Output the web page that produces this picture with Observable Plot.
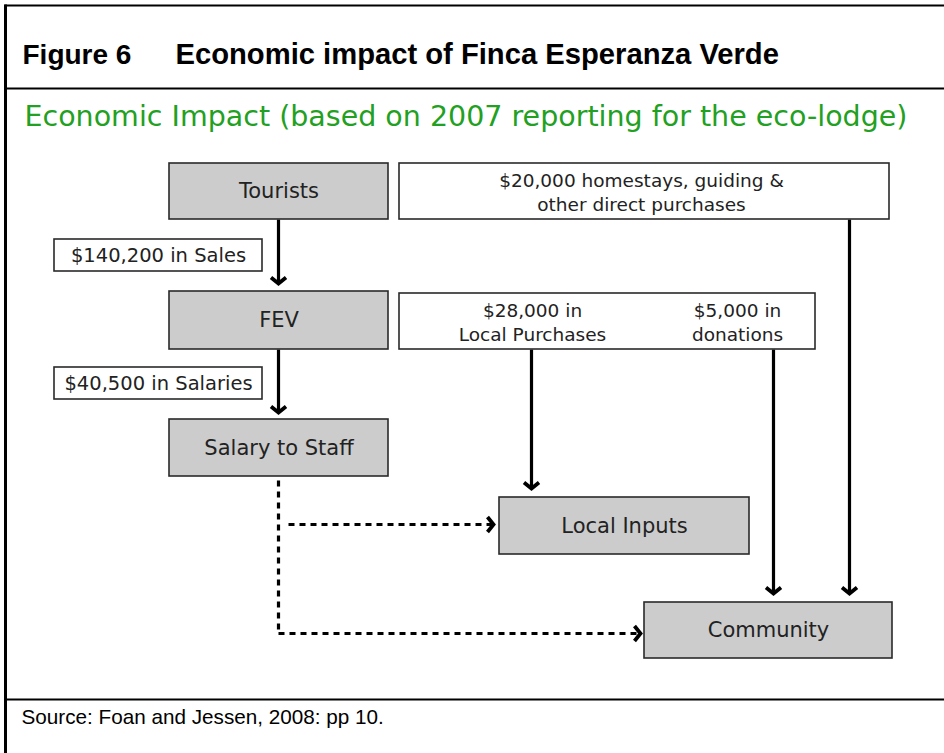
<!DOCTYPE html>
<html><head><meta charset="utf-8">
<script src="https://cdn.jsdelivr.net/npm/d3@7"></script>
<script src="https://cdn.jsdelivr.net/npm/@observablehq/plot@0.6"></script>
<style>html,body{margin:0;padding:0;background:#fff} svg{display:block}</style>
</head><body><div id="chart"></div>
<script>
// ---- content (text & values) ----
const figureNumber = "Figure 6";
const figureTitle = "Economic impact of Finca Esperanza Verde";
const diagramTitle = "Economic Impact (based on 2007 reporting for the eco-lodge)";
const sourceNote = "Source: Foan and Jessen, 2008: pp 10.";
const nodeNames = ["Tourists", "FEV", "Salary to Staff", "Local Inputs", "Community"];
const flowLabels = ["$140,200 in Sales", "$40,500 in Salaries"];
const noteLabels = ["$20,000 homestays, guiding &\nother direct purchases", "$28,000 in\nLocal Purchases", "$5,000 in\ndonations"];

// ---- layout (diagram geometry, in page units) ----
const nodeBoxes = [[169,388,163,219],[169,388,291,349],[169,388,419,476],[499,749,497,554],[644,892,602,658]];
const flowBoxes = [[54,262,239,271],[54,262,367,399]];
const noteBoxes = [[399,889,163,219],[399,815,293,349]];
const notePos = [[641,191],[532,321],[737,321]];
const solidArrows = [[278,219,278,283],[278,349,278,412],[531,349,531,488],[773,349,773,593],[849,219,849,593]];
const dashedPaths = [[[278,480],[278,633],[640,633]],[[288,524],[493,524]]];

const nodes = nodeNames.map((name,i)=>({name, x1:nodeBoxes[i][0], x2:nodeBoxes[i][1], y1:nodeBoxes[i][2], y2:nodeBoxes[i][3]}));
const flows = flowLabels.map((label,i)=>({label, x1:flowBoxes[i][0], x2:flowBoxes[i][1], y1:flowBoxes[i][2], y2:flowBoxes[i][3]}));
const noteRects = noteBoxes.map(b=>({x1:b[0],x2:b[1],y1:b[2],y2:b[3]}));
const notes = noteLabels.map((label,i)=>({label, x:notePos[i][0], y:notePos[i][1]}));
const shafts = solidArrows.map(a=>({x1:a[0],y1:a[1],x2:a[2],y2:a[3]}));
const dashedSegs = dashedPaths.flatMap((p)=>p.slice(1).map((pt,j)=>({x1:p[j][0],y1:p[j][1],x2:pt[0],y2:pt[1]})));
const heads = [
  ...solidArrows.map(a=>({x:a[2], y:a[3], rot:0})),
  ...dashedPaths.map(p=>({x:p[p.length-1][0], y:p[p.length-1][1], rot:-90}))
];

const chevron = {
  draw(ctx, size) {
    const r = Math.sqrt(size/Math.PI);
    const w = r, h = r*0.8;
    ctx.moveTo(-w,-h); ctx.lineTo(0,0); ctx.lineTo(w,-h);
  }
};

const boxFont = "'DejaVu Sans', Verdana, sans-serif";
const headFont = "'Liberation Sans', Arial, sans-serif";
const frame = [
  {x1:4,x2:944,y1:5,y2:5,w:2},
  {x1:4,x2:944,y1:88,y2:88,w:2},
  {x1:4,x2:944,y1:699,y2:699,w:2},
  {x1:5,x2:5,y1:4,y2:753,w:3}
];

const chart = Plot.plot({
  width: 944, height: 753, margin: 0,
  x: {domain:[0,944], range:[0,944], axis:null},
  y: {domain:[0,753], range:[0,753], axis:null},
  style: {background:"#fff"},
  marks: [
    Plot.link(frame.filter(d=>d.w===2), {x1:"x1",x2:"x2",y1:"y1",y2:"y2", stroke:"#000", strokeWidth:2}),
    Plot.link(frame.filter(d=>d.w===3), {x1:"x1",x2:"x2",y1:"y1",y2:"y2", stroke:"#000", strokeWidth:3}),
    Plot.text([figureNumber], {x:()=>22, y:()=>63, text:d=>d, textAnchor:"start", lineAnchor:"bottom", fontSize:28, fontWeight:"bold", fontFamily:headFont, fill:"#000"}),
    Plot.text([figureTitle], {x:()=>175, y:()=>63, text:d=>d, textAnchor:"start", lineAnchor:"bottom", fontSize:29.2, fontWeight:"bold", fontFamily:headFont, fill:"#000"}),
    Plot.text([diagramTitle], {x:()=>24, y:()=>125, text:d=>d, textAnchor:"start", lineAnchor:"bottom", fontSize:28.5, fontFamily:boxFont, fill:"#22a022"}),
    Plot.text([sourceNote], {x:()=>21, y:()=>723, text:d=>d, textAnchor:"start", lineAnchor:"bottom", fontSize:20.7, fontFamily:headFont, fill:"#000"}),
    // connectors
    Plot.link(shafts, {x1:"x1",y1:"y1",x2:"x2",y2:"y2", stroke:"#000", strokeWidth:3.2}),
    Plot.link(dashedSegs, {x1:"x1",y1:"y1",x2:"x2",y2:"y2", stroke:"#000", strokeWidth:3.2, strokeDasharray:"6,5"}),
    Plot.dot(heads, {x:"x", y:"y", rotate:"rot", symbol:chevron, r:7.5, fill:"none", stroke:"#000", strokeWidth:3.8, strokeLinejoin:"miter"}),
    // boxes
    Plot.rect(nodes, {x1:"x1",x2:"x2",y1:"y1",y2:"y2", fill:"#cccccc", stroke:"#2a2a2a", strokeWidth:1.6}),
    Plot.rect(flows, {x1:"x1",x2:"x2",y1:"y1",y2:"y2", fill:"#fff", stroke:"#2a2a2a", strokeWidth:1.6}),
    Plot.rect(noteRects, {x1:"x1",x2:"x2",y1:"y1",y2:"y2", fill:"#fff", stroke:"#2a2a2a", strokeWidth:1.6}),
    Plot.text(nodes, {x:d=>(d.x1+d.x2)/2, y:d=>(d.y1+d.y2)/2, text:"name", fontSize:21, fontFamily:boxFont, fill:"#222"}),
    Plot.text(flows, {x:d=>(d.x1+d.x2)/2, y:d=>(d.y1+d.y2)/2, text:"label", fontSize:19.5, fontFamily:boxFont, fill:"#222"}),
    Plot.text(notes, {x:"x", y:"y", text:"label", fontSize:18.5, lineHeight:1.3, fontFamily:boxFont, fill:"#222"})
  ]
});
document.getElementById("chart").append(chart);
</script>
</body></html>
